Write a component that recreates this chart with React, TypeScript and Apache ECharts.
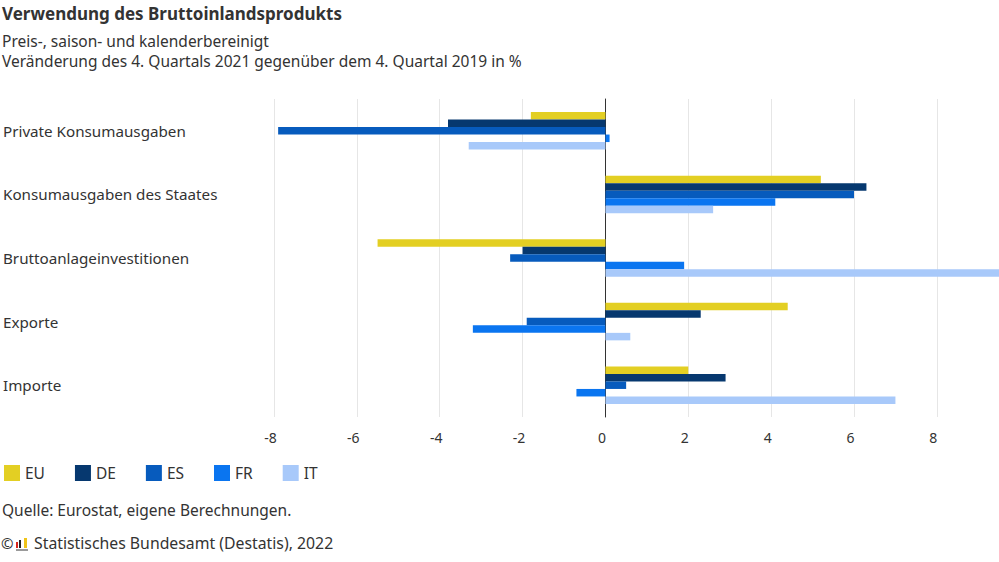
import React, { useEffect, useRef } from "react";
import * as echarts from "echarts";

const categories = [
  "Private Konsumausgaben",
  "Konsumausgaben des Staates",
  "Bruttoanlageinvestitionen",
  "Exporte",
  "Importe",
];
const seriesNames = ["EU", "DE", "ES", "FR", "IT"];
const euValues = [-1.8, 5.2, -5.5, 4.4, 2.0];
const deValues = [-3.8, 6.3, -2.0, 2.3, 2.9];
const esValues = [-7.9, 6.0, -2.3, -1.9, 0.5];
const frValues = [0.1, 4.1, 1.9, -3.2, -0.7];
const itValues = [-3.3, 2.6, 9.7, 0.6, 7.0];
const allValues = [euValues, deValues, esValues, frValues, itValues];
const colors = ["#e3cf23", "#06386f", "#075bbd", "#0a75f0", "#a8c9fa"];

const FONT = "'Noto Sans', sans-serif";
const TXT = "#333333";

export default function App() {
  const ref = useRef<HTMLDivElement>(null);
  useEffect(() => {
    if (!ref.current) return;
    const chart = echarts.init(ref.current, undefined, { renderer: "svg" });
    chart.setOption({
      animation: false,
      backgroundColor: "#ffffff",
      textStyle: { fontFamily: FONT },
      grid: { left: 273, right: 0, top: 99, bottom: 145, containLabel: false },
      legend: {
        left: 4,
        top: 465,
        padding: 0,
        icon: "rect",
        itemWidth: 16,
        itemHeight: 16,
        itemGap: 30,
        textStyle: { fontSize: 15.5, color: TXT, fontFamily: FONT, padding: [2, 0, 0, 0] },
        data: seriesNames,
      },
      xAxis: {
        type: "value",
        min: -8,
        max: 9.5,
        interval: 2,
        axisLine: { show: false },
        axisTick: { show: false },
        splitLine: { show: true, lineStyle: { color: "#e6e6e6", width: 1 } },
        axisLabel: {
          color: TXT,
          fontSize: 14,
          margin: 13,
          padding: [0, 7, 0, 0],
          showMaxLabel: false,
          fontFamily: FONT,
        },
      },
      yAxis: {
        type: "category",
        inverse: true,
        data: categories,
        axisLine: { show: true, onZero: true, lineStyle: { color: "#333333", width: 1 } },
        axisTick: { show: false },
        axisLabel: {
          align: "left",
          margin: 271,
          color: TXT,
          fontSize: 15.2,
          fontFamily: FONT,
        },
      },
      series: seriesNames.map((name, i) => ({
        name,
        type: "bar",
        data: allValues[i],
        barGap: "0%",
        barCategoryGap: "41%",
        clip: true,
        itemStyle: { color: colors[i] },
      })),
      graphic: [
        {
          type: "text",
          left: 2,
          top: 5,
          style: { text: "Verwendung des Bruttoinlandsprodukts", fontSize: 17, fontWeight: "bold", fill: TXT, fontFamily: FONT },
        },
        {
          type: "text",
          left: 2,
          top: 33,
          style: { text: "Preis-, saison- und kalenderbereinigt", fontSize: 15.5, fill: TXT, fontFamily: FONT },
        },
        {
          type: "text",
          left: 2,
          top: 53,
          style: { text: "Veränderung des 4. Quartals 2021 gegenüber dem 4. Quartal 2019 in %", fontSize: 15.5, fill: TXT, fontFamily: FONT },
        },
        {
          type: "text",
          left: 2,
          top: 502,
          style: { text: "Quelle: Eurostat, eigene Berechnungen.", fontSize: 15.5, fill: TXT, fontFamily: FONT },
        },
        {
          type: "text",
          left: 1,
          top: 535,
          style: { text: "©", fontSize: 15, fill: TXT, fontFamily: FONT },
        },
        { type: "rect", shape: { x: 16, y: 542, width: 2, height: 6 }, style: { fill: "#d9261c" } },
        { type: "rect", shape: { x: 19, y: 540, width: 2, height: 8 }, style: { fill: "#222222" } },
        { type: "rect", shape: { x: 24, y: 538, width: 3, height: 10 }, style: { fill: "#f0c419" } },
        { type: "rect", shape: { x: 16, y: 549, width: 12, height: 2 }, style: { fill: "#9a9a9a" } },
        {
          type: "text",
          left: 34,
          top: 535,
          style: { text: "Statistisches Bundesamt (Destatis), 2022", fontSize: 15.8, fill: TXT, fontFamily: FONT },
        },
      ],
    });
    return () => chart.dispose();
  }, []);
  return (
    <div
      ref={ref}
      style={{ position: "absolute", left: 0, top: 0, width: 999, height: 562 }}
    />
  );
}
